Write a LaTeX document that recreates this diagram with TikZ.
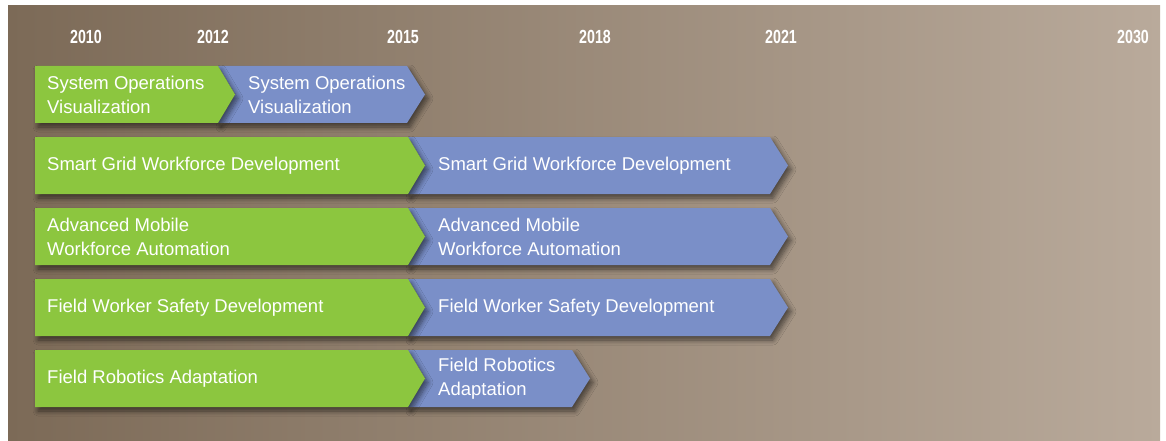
\documentclass[tikz,border=0pt]{standalone}
\usepackage{fontspec}
\setmainfont{Liberation Sans}
\newfontfamily\yearfont[FakeStretch=0.75]{Liberation Sans}
\usetikzlibrary{shadows.blur}
\definecolor{grx}{HTML}{8CC63F}
\definecolor{blx}{HTML}{7A8FC8}
\definecolor{bgl}{HTML}{7C6A57}
\definecolor{bgr}{HTML}{B9AA9B}
\tikzset{
    year/.style={white,font=\yearfont\bfseries\fontsize{19}{19}\selectfont,inner sep=0pt},
    phase/.style={white,font=\fontsize{18.5}{24}\selectfont,align=left,anchor=west,inner sep=0pt},
    bar/.style={blur shadow={shadow xshift=3pt,shadow yshift=-4pt,shadow blur radius=5pt,shadow blur steps=8,shadow opacity=55}}
}

\begin{document}
\begin{tikzpicture}[x=1pt,y=-1pt]
    \useasboundingbox (0,0) rectangle (1166,441);
    \shade [left color=bgl,right color=bgr] (8,6) rectangle (1160,441);
    \foreach \yr/\x in {2010/86,2012/213,2015/403,2018/595,2021/781,2030/1133} {
        \node [year] (y\yr) at (\x,37) {\yr};
    }
    % one row per task: top edge, end of green part, end of blue part
    \foreach \n/\t/\g/\b/\txt in {
        1/66/218/407/{System Operations\\Visualization},
        2/137/408/770/{Smart Grid Workforce Development},
        3/208/408/770/{Advanced Mobile\\Workforce Automation},
        4/279/408/770/{Field Worker Safety Development},
        5/350/408/572/{Field Robotics Adaptation}} {
        \fill [blx,bar] (\g,\t) -- (\b,\t) -- (\b+18,\t+28.5) -- (\b,\t+57)
            -- (\g,\t+57) -- (\g+17,\t+28.5) -- cycle;
        \fill [grx,bar] (35,\t) -- (\g,\t) -- (\g+17,\t+28.5) -- (\g,\t+57)
            -- (35,\t+57) -- cycle;
        \node [phase] (now\n) at (47,\t+29) {\txt};
    }
    \node [phase] (next1) at (248,95) {System Operations\\Visualization};
    \node [phase] (next2) at (438,166) {Smart Grid Workforce Development};
    \node [phase] (next3) at (438,237) {Advanced Mobile\\Workforce Automation};
    \node [phase] (next4) at (438,308) {Field Worker Safety Development};
    \node [phase] (next5) at (438,379) {Field Robotics\\Adaptation};
\end{tikzpicture}
\end{document}
